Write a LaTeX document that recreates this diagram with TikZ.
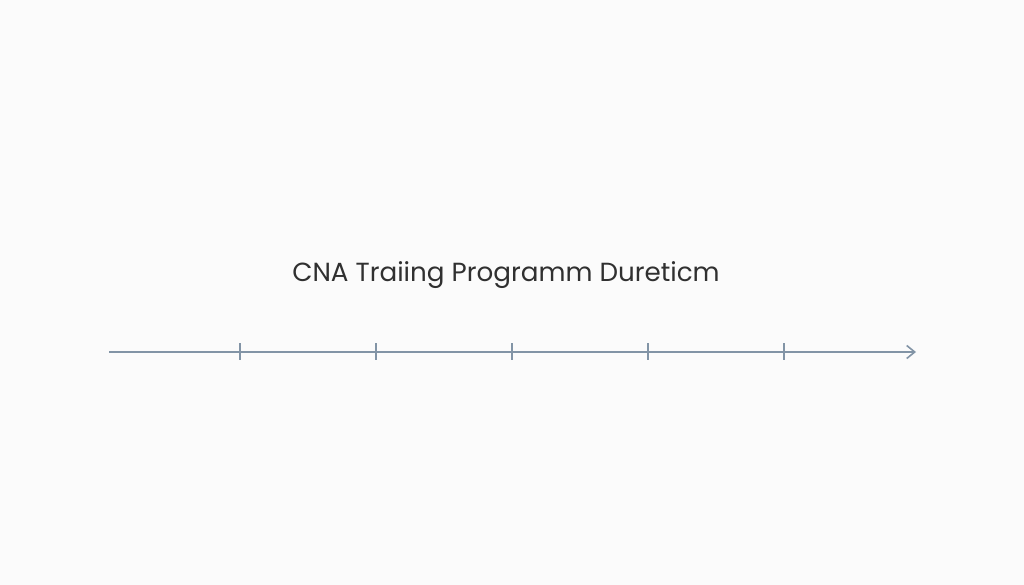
\documentclass[tikz,border=0pt]{standalone}
\usepackage{fontspec}
\setmainfont{Poppins}
\usetikzlibrary{arrows.meta}
\definecolor{bgc}{HTML}{FBFBFB}
\definecolor{axisc}{HTML}{8294A6}
\definecolor{textc}{HTML}{303030}
\tikzset{
  axisline/.style={draw=axisc, line width=1.8pt, -{Straight Barb[length=8pt,width=13pt,line width=1.6pt]}},
  tickmark/.style={draw=axisc, line width=1.4pt},
  titletext/.style={text=textc, font=\fontsize{26.2}{30}\selectfont, inner sep=0pt, anchor=base}
}
\begin{document}
\begin{tikzpicture}[x=1pt,y=-1pt]
  \fill[bgc] (0,0) rectangle (1024,585);
  \useasboundingbox (0,0) rectangle (1024,585);
  \node[titletext] (title) at (506,281) {CNA Traiing Programm Dureticm};
  \coordinate (start) at (109,352);
  \coordinate (end) at (916,352);
  \draw[axisline] (start) -- (end);
  \foreach \x [count=\i] in {240,376,512,648,784} {
    \coordinate (t\i a) at (\x,343);
    \coordinate (t\i b) at (\x,360);
    \draw[tickmark] (t\i a) -- (t\i b);
  }
\end{tikzpicture}
\end{document}
